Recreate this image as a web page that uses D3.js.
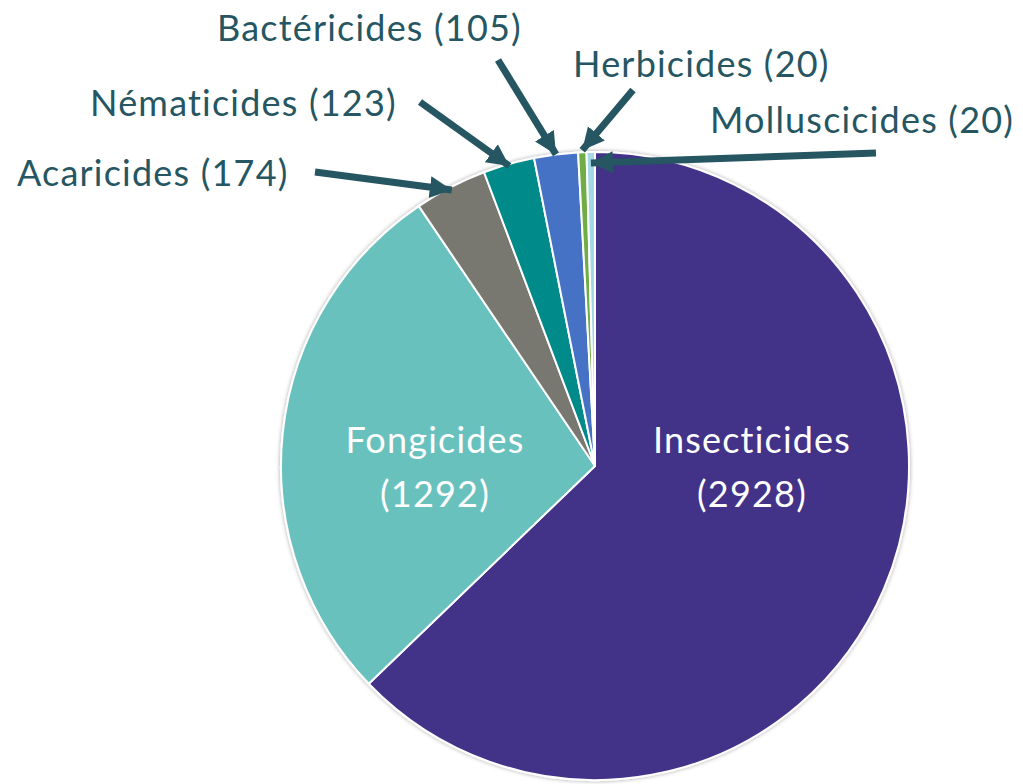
<!DOCTYPE html>
<html>
<head>
<meta charset="utf-8">
<script src="https://cdn.jsdelivr.net/npm/d3@7"></script>
<style>
  html, body { margin: 0; padding: 0; background: #fff; }
  svg { display: block; font-family: Lato, "Open Sans", sans-serif; font-variant-ligatures: none; }
</style>
</head>
<body>
<svg width="1023" height="784"></svg>
<script>
// data
const categories = ['Insecticides', 'Fongicides', 'Acaricides', 'Nématicides', 'Bactéricides', 'Herbicides', 'Molluscicides'];
const counts = [2928, 1292, 174, 123, 105, 20, 20];
const colors = ['#433188', '#69C1BE', '#797870', '#008B8A', '#4472C4', '#70AD47', '#A5D8E6'];

// labels inside the pie (index -> position), outside ones with arrows
const insideLabels = [
  { i: 0, x: 752, y: 453 },
  { i: 1, x: 435, y: 453 }
];
// tx,ty = text anchor (start), ax,ay = arrow tail, rr = radius offset of tip
const calloutLabels = [
  { i: 2, tx: 17,  ty: 186, ax: 315, ay: 172, rr: -3 },
  { i: 3, tx: 90,  ty: 116, ax: 420, ay: 102, rr: -2 },
  { i: 4, tx: 217, ty: 41,  ax: 498, ay: 60,  rr: 0 },
  { i: 5, tx: 573, ty: 77,  ax: 633, ay: 90,  rr: 2 },
  { i: 6, tx: 710, ty: 133, ax: 876, ay: 153, rr: -11 }
];

const svg = d3.select('svg');
const cx = 595, cy = 466, r = 314;
const labelColor = '#255662';
const fontSize = 36;
const spacing = 1.2;

const defs = svg.append('defs');
defs.append('filter').attr('id', 'shadow')
    .attr('x', '-10%').attr('y', '-10%').attr('width', '120%').attr('height', '120%')
  .append('feDropShadow')
    .attr('dx', 0).attr('dy', 0).attr('stdDeviation', 2)
    .attr('flood-color', '#000').attr('flood-opacity', 0.35);
defs.append('marker').attr('id', 'head')
    .attr('viewBox', '0 0 10 10')
    .attr('refX', 10).attr('refY', 5)
    .attr('markerUnits', 'userSpaceOnUse')
    .attr('markerWidth', 22).attr('markerHeight', 24)
    .attr('orient', 'auto')
  .append('path')
    .attr('d', 'M0,0 L10,5 L0,10 Z')
    .attr('fill', labelColor);

const data = categories.map((c, i) => ({ name: c, value: counts[i], color: colors[i] }));

const pie = d3.pie().value(d => d.value).sort(null);
const arcs = pie(data);
const arc = d3.arc().innerRadius(0).outerRadius(r);

const g = svg.append('g').attr('transform', `translate(${cx},${cy})`);

g.append('g').attr('filter', 'url(#shadow)')
  .selectAll('path')
  .data(arcs)
  .enter()
  .append('path')
  .attr('d', arc)
  .attr('fill', d => d.data.color)
  .attr('stroke', '#fff')
  .attr('stroke-width', 2)
  .attr('stroke-linejoin', 'round');

// inside labels
insideLabels.forEach(l => {
  const d = data[l.i];
  const t = svg.append('text')
    .attr('x', l.x).attr('y', l.y)
    .attr('text-anchor', 'middle')
    .attr('fill', '#fff')
    .attr('font-size', fontSize)
    .attr('letter-spacing', spacing);
  t.append('tspan').attr('x', l.x).text(d.name);
  t.append('tspan').attr('x', l.x).attr('dy', 54).text('(' + d.value + ')');
});

// callouts with arrows
calloutLabels.forEach(l => {
  const a = arcs[l.i];
  const mid = (a.startAngle + a.endAngle) / 2;
  const rad = r + l.rr;
  const tipX = cx + rad * Math.sin(mid);
  const tipY = cy - rad * Math.cos(mid);
  svg.append('line')
    .attr('x1', l.ax).attr('y1', l.ay)
    .attr('x2', tipX).attr('y2', tipY)
    .attr('stroke', labelColor)
    .attr('stroke-width', 7)
    .attr('marker-end', 'url(#head)');
  svg.append('text')
    .attr('x', l.tx).attr('y', l.ty)
    .attr('fill', labelColor)
    .attr('font-size', fontSize)
    .attr('letter-spacing', spacing)
    .text(a.data.name + ' (' + a.data.value + ')');
});
</script>
</body>
</html>
